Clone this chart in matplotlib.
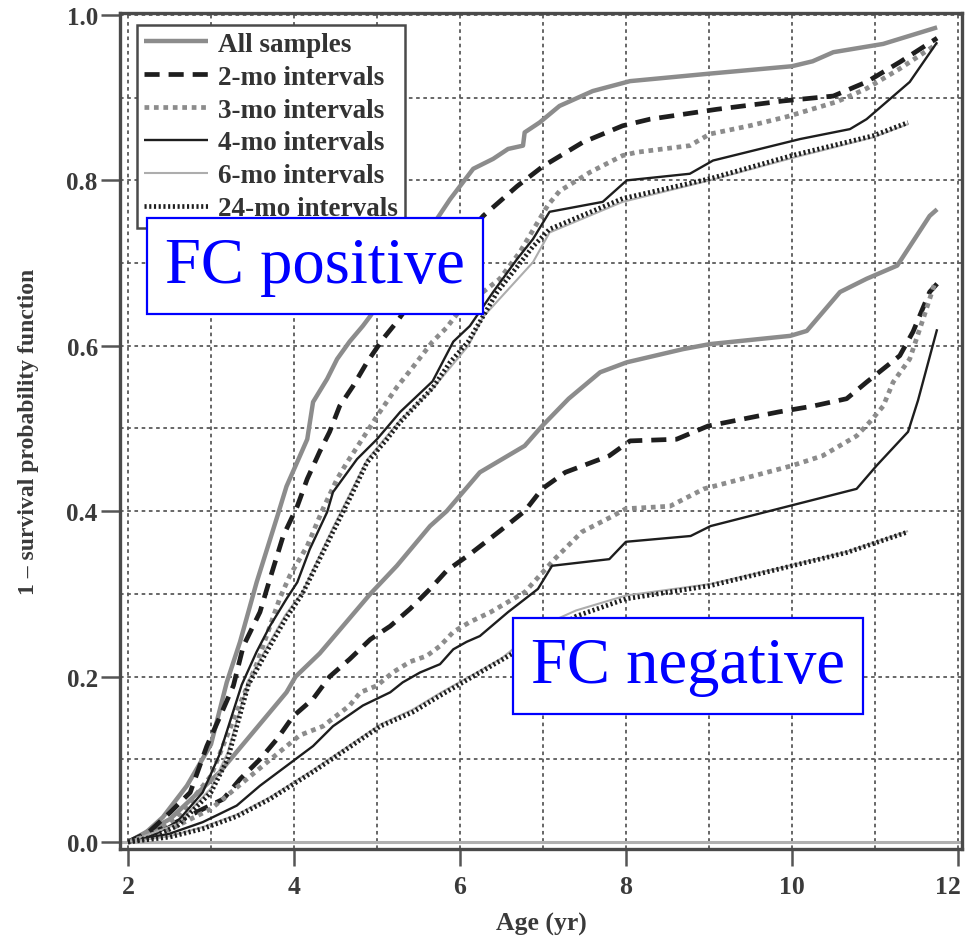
import matplotlib
matplotlib.use("Agg")
import matplotlib.pyplot as plt
import matplotlib.transforms as mtransforms
from matplotlib.ticker import MultipleLocator

# ---------------- data ----------------
# FC positive group
all_pos_x = [2.0, 2.2, 2.42, 2.71, 3.0, 3.19, 3.35, 3.55, 3.8, 3.91, 4.16, 4.23, 4.4, 4.52, 4.67,
             4.83, 4.92, 5.2, 5.5, 5.88, 6.16, 6.4, 6.58, 6.76, 6.78, 6.96, 7.2, 7.6, 8.05, 9.0,
             10.0, 10.25, 10.5, 11.1, 11.75]
all_pos_y = [0.0, 0.01, 0.03, 0.068, 0.118, 0.193, 0.242, 0.314, 0.394, 0.43, 0.487, 0.532, 0.56,
             0.584, 0.605, 0.624, 0.636, 0.68, 0.72, 0.777, 0.814, 0.826, 0.838, 0.842, 0.858,
             0.870, 0.89, 0.908, 0.920, 0.929, 0.938, 0.944, 0.955, 0.965, 0.985]

mo2_pos_x = [2.0, 2.25, 2.51, 2.75, 2.95, 3.11, 3.27, 3.39, 3.59, 3.71, 3.87, 4.04, 4.16, 4.31,
             4.43, 4.55, 4.71, 4.88, 5.07, 5.24, 5.6, 6.0, 6.28, 6.69, 7.0, 7.48, 7.96, 8.29,
             9.1, 9.89, 10.5, 10.9, 11.3, 11.75]
mo2_pos_y = [0.0, 0.012, 0.036, 0.06, 0.116, 0.152, 0.189, 0.237, 0.278, 0.318, 0.37, 0.406,
             0.439, 0.472, 0.496, 0.527, 0.551, 0.58, 0.608, 0.629, 0.68, 0.725, 0.757, 0.793,
             0.817, 0.846, 0.866, 0.874, 0.886, 0.896, 0.902, 0.919, 0.943, 0.972]

mo3_pos_x = [2.0, 2.3, 2.6, 3.0, 3.3, 3.55, 3.83, 3.95, 4.16, 4.35, 4.52, 4.64, 4.88, 5.0, 5.24,
             5.4, 5.67, 5.84, 6.0, 6.48, 6.72, 7.06, 7.2, 7.57, 7.96, 8.13, 8.77, 9.01, 9.49,
             9.94, 10.54, 10.9, 11.3, 11.75]
mo3_pos_y = [0.0, 0.01, 0.03, 0.08, 0.155, 0.215, 0.295, 0.322, 0.358, 0.403, 0.439, 0.459,
             0.496, 0.515, 0.55, 0.57, 0.605, 0.622, 0.643, 0.681, 0.713, 0.77, 0.787, 0.81,
             0.83, 0.834, 0.842, 0.856, 0.866, 0.877, 0.895, 0.911, 0.935, 0.965]

mo4_pos_x = [2.0, 2.3, 2.6, 2.9, 3.1, 3.37, 3.55, 3.71, 3.91, 4.04, 4.19, 4.4, 4.47, 4.76, 5.0,
             5.28, 5.67, 5.92, 6.12, 6.4, 6.69, 6.88, 7.08, 7.72, 8.01, 8.77, 9.05, 10.1, 10.7,
             10.9, 11.42, 11.75]
mo4_pos_y = [0.0, 0.008, 0.025, 0.06, 0.105, 0.19, 0.23, 0.261, 0.294, 0.314, 0.354, 0.399,
             0.423, 0.463, 0.487, 0.52, 0.557, 0.605, 0.624, 0.665, 0.705, 0.729, 0.762, 0.774,
             0.8, 0.808, 0.824, 0.85, 0.862, 0.874, 0.919, 0.967]

mo6_pos_x = [2.0, 2.6, 3.0, 3.2, 3.45, 3.67, 3.9, 4.1, 4.47, 4.88, 5.28, 5.67, 6.1, 6.28, 6.88,
             7.08, 7.96, 9.01, 10.0, 10.98, 11.4]
mo6_pos_y = [0.0, 0.022, 0.065, 0.108, 0.195, 0.235, 0.275, 0.302, 0.38, 0.462, 0.51, 0.548,
             0.6, 0.635, 0.701, 0.737, 0.774, 0.8, 0.827, 0.852, 0.868]

mo24_pos_x = [2.0, 2.3, 2.6, 3.0, 3.2, 3.45, 3.67, 3.9, 4.1, 4.19, 4.47, 4.67, 4.88, 5.12, 5.28,
              5.67, 5.88, 6.1, 6.45, 6.88, 7.08, 7.96, 9.01, 10.0, 10.98, 11.4]
mo24_pos_y = [0.0, 0.006, 0.02, 0.06, 0.1, 0.19, 0.23, 0.27, 0.3, 0.318, 0.375, 0.415, 0.459,
              0.487, 0.508, 0.549, 0.58, 0.605, 0.665, 0.72, 0.741, 0.778, 0.802, 0.83, 0.854,
              0.87]

# FC negative group
all_neg_x = [2.0, 2.51, 3.11, 3.51, 3.91, 4.02, 4.31, 4.92, 5.24, 5.64, 5.84, 6.24, 6.78, 6.99,
             7.31, 7.69, 8.01, 8.69, 9.01, 9.98, 10.18, 10.58, 10.9, 11.27, 11.66, 11.75]
all_neg_y = [0.0, 0.028, 0.085, 0.133, 0.181, 0.2, 0.228, 0.3, 0.334, 0.382, 0.4, 0.447, 0.479,
             0.503, 0.536, 0.568, 0.58, 0.596, 0.602, 0.612, 0.618, 0.665, 0.681, 0.697, 0.757,
             0.765]

mo2_neg_x = [2.0, 2.5, 3.15, 3.35, 3.59, 3.8, 3.99, 4.23, 4.43, 4.67, 4.92, 5.16, 5.4, 5.64,
             5.84, 6.12, 6.48, 6.78, 6.99, 7.27, 7.8, 8.05, 8.61, 8.99, 9.84, 10.25, 10.66,
             10.9, 11.3, 11.46, 11.66, 11.75]
mo2_neg_y = [0.0, 0.02, 0.052, 0.076, 0.1, 0.125, 0.152, 0.173, 0.2, 0.221, 0.245, 0.261, 0.282,
             0.306, 0.328, 0.348, 0.376, 0.4, 0.427, 0.447, 0.467, 0.485, 0.487, 0.503, 0.52,
             0.527, 0.536, 0.556, 0.588, 0.617, 0.665, 0.675]

mo3_neg_x = [2.0, 2.5, 3.0, 3.3, 3.67, 4.07, 4.35, 4.67, 4.8, 5.0, 5.19, 5.4, 5.6, 5.76, 5.92,
             6.12, 6.37, 6.78, 7.14, 7.47, 7.84, 8.0, 8.53, 8.94, 9.55, 10.0, 10.37, 10.78,
             10.94, 11.1, 11.22, 11.42, 11.58, 11.72]
mo3_neg_y = [0.0, 0.015, 0.04, 0.065, 0.096, 0.129, 0.14, 0.165, 0.181, 0.189, 0.205, 0.218,
             0.225, 0.237, 0.254, 0.266, 0.278, 0.302, 0.342, 0.375, 0.394, 0.403, 0.406, 0.427,
             0.443, 0.455, 0.467, 0.491, 0.508, 0.527, 0.556, 0.584, 0.632, 0.675]

mo4_neg_x = [2.0, 2.5, 2.9, 3.31, 3.59, 3.91, 4.23, 4.47, 4.83, 5.16, 5.31, 5.52, 5.76, 5.92,
             6.08, 6.24, 6.58, 6.94, 7.11, 7.8, 8.0, 8.78, 9.02, 9.84, 10.78, 11.02, 11.4,
             11.52, 11.75]
mo4_neg_y = [0.0, 0.01, 0.024, 0.044, 0.068, 0.092, 0.116, 0.14, 0.165, 0.181, 0.193, 0.205,
             0.215, 0.233, 0.242, 0.249, 0.278, 0.306, 0.334, 0.342, 0.363, 0.37, 0.382, 0.403,
             0.427, 0.455, 0.496, 0.534, 0.62]

mo6_neg_x = [2.0, 2.5, 2.9, 3.31, 3.71, 4.23, 4.6, 5.04, 5.43, 5.76, 6.24, 6.5, 7.0, 7.4, 8.0,
             9.02, 9.84, 10.66, 11.4]
mo6_neg_y = [0.0, 0.007, 0.018, 0.033, 0.054, 0.087, 0.112, 0.142, 0.16, 0.18, 0.207, 0.222,
             0.262, 0.28, 0.298, 0.312, 0.331, 0.351, 0.376]

mo24_neg_x = [2.0, 2.5, 2.9, 3.31, 3.71, 4.23, 4.6, 5.04, 5.43, 5.76, 6.24, 6.5, 7.4, 8.0, 9.02,
              9.84, 10.66, 11.4]
mo24_neg_y = [0.0, 0.006, 0.016, 0.031, 0.052, 0.085, 0.11, 0.14, 0.157, 0.177, 0.205, 0.22,
              0.273, 0.294, 0.31, 0.33, 0.35, 0.375]

legend_labels = ["All samples", "2-mo intervals", "3-mo intervals", "4-mo intervals",
                 "6-mo intervals", "24-mo intervals"]
x_ticks = [2, 4, 6, 8, 10, 12]
y_ticks = [0.0, 0.2, 0.4, 0.6, 0.8, 1.0]

# ---------------- styles ----------------
styles = [
    dict(color="#8c8c8c", lw=3.2, ls="-"),
    dict(color="#1e1e1e", lw=3.4, ls=(0, (3.2, 1.9))),
    dict(color="#8c8c8c", lw=3.4, ls=(0, (1.0, 1.0))),
    dict(color="#1e1e1e", lw=1.7, ls="-"),
    dict(color="#adadad", lw=1.5, ls="-"),
    dict(color="#1e1e1e", lw=3.4, ls=(0, (0.45, 0.55))),
]

pos_series = [(all_pos_x, all_pos_y), (mo2_pos_x, mo2_pos_y), (mo3_pos_x, mo3_pos_y),
              (mo4_pos_x, mo4_pos_y), (mo6_pos_x, mo6_pos_y), (mo24_pos_x, mo24_pos_y)]
neg_series = [(all_neg_x, all_neg_y), (mo2_neg_x, mo2_neg_y), (mo3_neg_x, mo3_neg_y),
              (mo4_neg_x, mo4_neg_y), (mo6_neg_x, mo6_neg_y), (mo24_neg_x, mo24_neg_y)]

serif = ["Liberation Serif", "DejaVu Serif"]
textc = "#3a3a3a"
spinec = "#4a4a4a"

fig = plt.figure(figsize=(9.68, 9.45), dpi=100)
ax = fig.add_axes([0.124, 0.1005, 0.8698, 0.8847])

ax.set_xlim(1.904, 12.05)
ax.set_ylim(-0.0085, 1.0024)

# grid
ax.xaxis.set_minor_locator(MultipleLocator(1))
ax.yaxis.set_minor_locator(MultipleLocator(0.1))
ax.set_xticks(x_ticks)
ax.set_yticks(y_ticks)
ax.grid(True, which="both", color="#5a5a5a", lw=1.3, ls=(0, (2.0, 2.0)), zorder=0)
ax.set_axisbelow(True)
ax.axhline(0, color="#b0b0b0", lw=2.2, zorder=1)

ax.tick_params(axis="both", which="major", direction="out", width=1.8, color="#555555")
ax.tick_params(axis="y", which="major", length=14, pad=2)
ax.tick_params(axis="x", which="major", length=12, pad=7)
ax.tick_params(axis="both", which="minor", length=0)
ax.set_xticklabels([str(v) for v in x_ticks], fontfamily=serif, fontweight="bold",
                   fontsize=18.5, color=textc)
ax.set_yticklabels(["%.1f" % v for v in y_ticks], fontfamily=serif, fontweight="bold",
                   fontsize=18, color=textc)
# keep the last x tick label ("12") inside the figure edge
last = ax.get_xticklabels()[-1]
last.set_transform(last.get_transform() +
                   mtransforms.ScaledTranslation(-7 / 72, 0, fig.dpi_scale_trans))

for s in ax.spines.values():
    s.set_color(spinec)
    s.set_linewidth(2.4)

handles = []
for i, st in enumerate(styles):
    xs, ys = pos_series[i]
    (h,) = ax.plot(xs, ys, color=st["color"], lw=st["lw"], ls=st["ls"], zorder=3,
                   label=legend_labels[i], solid_capstyle="butt", dash_capstyle="butt")
    handles.append(h)
    xs, ys = neg_series[i]
    ax.plot(xs, ys, color=st["color"], lw=st["lw"], ls=st["ls"], zorder=3,
            solid_capstyle="butt", dash_capstyle="butt")

leg = ax.legend(handles=handles, loc="upper left", bbox_to_anchor=(0.0203, 0.9856),
                prop=dict(family=serif, weight="bold", size=19.5), frameon=True,
                fancybox=False, framealpha=1, edgecolor=spinec, handlelength=2.35,
                handletextpad=0.4, labelspacing=0.29, borderpad=0.25, borderaxespad=0.0)
leg.get_frame().set_linewidth(1.8)
leg.set_zorder(5)
for t in leg.get_texts():
    t.set_color("#333333")

ax.set_xlabel("Age (yr)", fontfamily=serif, fontweight="bold", fontsize=18.5, color=textc,
              labelpad=10)
ax.set_ylabel("1 \u2013 survival probability function", fontfamily=serif, fontweight="bold",
              fontsize=17, color=textc, labelpad=20)

box = dict(boxstyle="square,pad=0.28", facecolor="white", edgecolor="#0000ff", lw=1.6)
ax.text(0.231, 0.697, "FC positive", transform=ax.transAxes, ha="center", va="center",
        fontfamily=serif, fontsize=46.5, color="#0000ff", bbox=box, zorder=10)
ax.text(0.6746, 0.219, "FC negative", transform=ax.transAxes, ha="center", va="center",
        fontfamily=serif, fontsize=46.5, color="#0000ff", bbox=box, zorder=10)

fig.savefig("out.png", dpi=100)
